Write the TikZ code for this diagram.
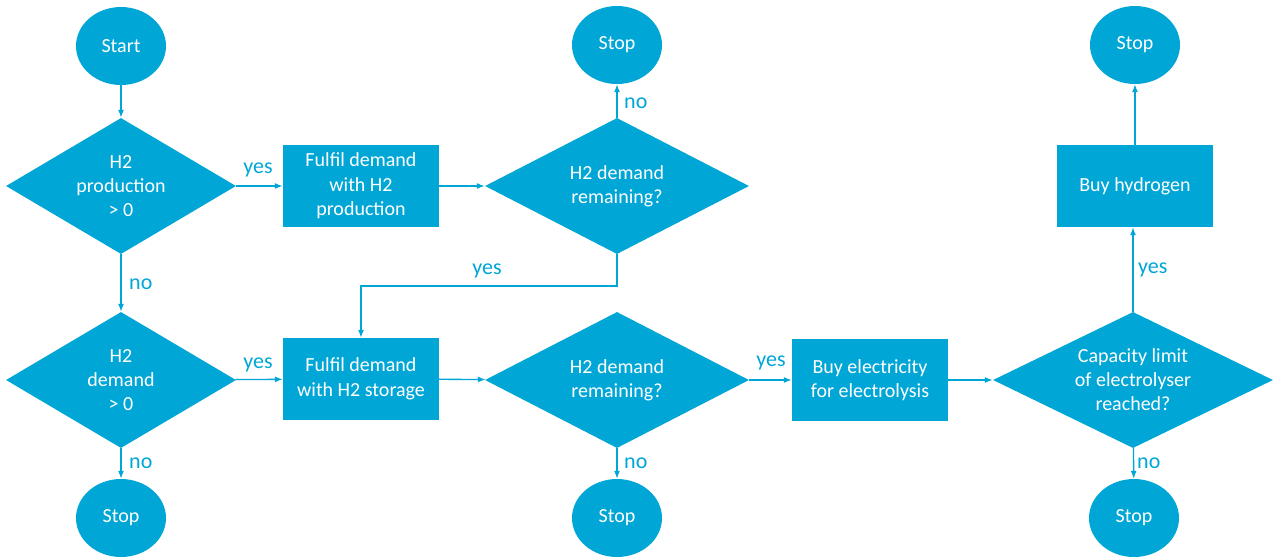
\documentclass[tikz,border=0pt]{standalone}
\usepackage{fontspec}
\setmainfont{Carlito}
\usetikzlibrary{shapes.geometric,arrows.meta}
\definecolor{fcblue}{RGB}{0,166,214}
\tikzset{
  term/.style={ellipse, fill=fcblue, draw=none, minimum width=90pt, minimum height=78pt, inner sep=0pt, text=white, font=\fontsize{20}{24}\selectfont},
  proc/.style={rectangle, fill=fcblue, draw=none, minimum width=156pt, minimum height=82pt, inner sep=0pt, text=white, align=center, font=\fontsize{20}{24.5}\selectfont},
  dec/.style={diamond, fill=fcblue, draw=none, inner sep=0pt, minimum width=#1, minimum height=136pt},
  dectext/.style={text=white, align=center, inner sep=0pt, font=\fontsize{20}{24}\selectfont},
  lbl/.style={text=fcblue, inner sep=0pt, font=\fontsize{22}{24}\selectfont},
  flow/.style={draw=fcblue, line width=1.3pt, -{Latex[length=8pt,width=6pt]}},
}
\begin{document}
\begin{tikzpicture}[x=1pt,y=-1pt]
\useasboundingbox (0,0) rectangle (1276,558);
% terminals
\node[term] (start) at (121,46) {Start};
\node[term] (s1) at (617,45) {Stop};
\node[term] (s2) at (1135,45) {Stop};
\node[term] (s3) at (121,518) {Stop};
\node[term] (s4) at (617,518) {Stop};
\node[term] (s5) at (1134,518) {Stop};
% decisions
\node[dec=230pt] (d1) at (121,186) {};
\node[dectext] at (d1) {H2\\production\\> 0};
\node[dec=264pt] (d2) at (617,186) {};
\node[dectext] at (d2) {H2 demand\\remaining?};
\node[dec=230pt] (d3) at (121,380) {};
\node[dectext] at (d3) {H2\\demand\\> 0};
\node[dec=264pt] (d4) at (617,380) {};
\node[dectext] at (d4) {H2 demand\\remaining?};
\node[dec=280pt] (d5) at (1133,380) {};
\node[dectext] at (d5) {Capacity limit\\of electrolyser\\reached?};
% processes
\node[proc] (b1) at (361,186) {Fulfil demand\\with H2\\production};
\node[proc] (b2) at (361,379) {Fulfil demand\\with H2 storage};
\node[proc] (b3) at (870,380) {Buy electricity\\for electrolysis};
\node[proc] (b4) at (1135,186) {Buy hydrogen};
% connectors
\draw[flow] (start) -- (d1);
\draw[flow] (d1) -- (b1);
\draw[flow] (b1) -- (d2);
\draw[flow] (d2) -- (s1);
\coordinate (c1) at (617,286);
\coordinate (c2) at (361,286);
\draw[flow] (d2.south) -- (c1) -- (c2) -- (b2.north);
\draw[flow] (d1) -- (d3);
\draw[flow] (d3) -- (b2);
\draw[flow] (d3) -- (s3);
\draw[flow] (b2) -- (d4);
\draw[flow] (d4) -- (s4);
\draw[flow] (d4) -- (b3);
\draw[flow] (b3) -- (d5);
\draw[flow] (d5) -- (s5);
\draw[flow] (d5.north) -- (b4.south -| d5.north);
\draw[flow] (b4) -- (s2);
% labels
\node[lbl] at (258,170) {yes};
\node[lbl, anchor=west] at (129,284) {no};
\node[lbl, anchor=west] at (624,103) {no};
\node[lbl] at (487,271) {yes};
\node[lbl] at (258,365) {yes};
\node[lbl, anchor=west] at (129,463) {no};
\node[lbl, anchor=west] at (624,463) {no};
\node[lbl] at (771,363) {yes};
\node[lbl, anchor=west] at (1138,270) {yes};
\node[lbl, anchor=west] at (1137,463) {no};
\end{tikzpicture}
\end{document}
